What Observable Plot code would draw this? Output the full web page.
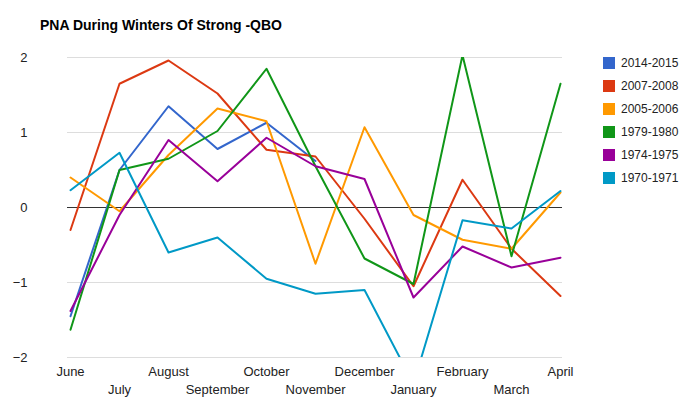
<!DOCTYPE html>
<html><head><meta charset="utf-8">
<script src="https://cdn.jsdelivr.net/npm/d3@7"></script>
<script src="https://cdn.jsdelivr.net/npm/@observablehq/plot@0.6"></script>
<style>
body{margin:0;background:#fff;font-family:Arial,"Liberation Sans",sans-serif}
#wrap{position:relative;width:699px;height:420px}
#title{position:absolute;left:40px;top:17px;font-size:14px;font-weight:bold;color:#000}
#legend{position:absolute;left:603px;top:56px;font-size:12px;color:#222}
.li{height:23px;display:flex;align-items:flex-start}
.sw{width:12px;height:12px;margin-right:6px;margin-top:1px}
</style></head><body>
<div id="wrap"><div id="chart"></div><div id="title">PNA During Winters Of Strong -QBO</div><div id="legend"></div></div>
<script>
const months = ["June","July","August","September","October","November","December","January","February","March","April"];
const seriesNames = ["2014-2015","2007-2008","2005-2006","1979-1980","1974-1975","1970-1971"];
const colors = ["#3366cc","#dc3912","#ff9900","#109618","#990099","#0099c6"];
const s2014 = [-1.45,0.5,1.35,0.78,1.13,0.62,null,null,null,null,null];
const s2007 = [-0.3,1.65,1.96,1.52,0.77,0.68,-0.15,-1.05,0.37,-0.55,-1.18];
const s2005 = [0.4,-0.05,0.7,1.32,1.15,-0.75,1.07,-0.1,-0.43,-0.55,0.2];
const s1979 = [-1.63,0.5,0.65,1.02,1.85,0.55,-0.68,-1.02,2.03,-0.65,1.65];
const s1974 = [-1.38,-0.1,0.9,0.35,0.93,0.55,0.38,-1.2,-0.52,-0.8,-0.67];
const s1970 = [0.23,0.73,-0.6,-0.4,-0.95,-1.15,-1.1,-2.35,-0.17,-0.28,0.22];
const yTicks = [-2,-1,0,1,2];
const all = [s2014,s2007,s2005,s1979,s1974,s1970];
const data = [];
all.forEach((s,i)=>s.forEach((v,j)=>{ if(v!==null) data.push({series:seriesNames[i],month:months[j],v}); }));
const chart = Plot.plot({
  width:699,height:420,marginLeft:67,marginRight:137,marginTop:57,marginBottom:63,
  style:{fontFamily:"Arial, 'Liberation Sans', sans-serif",fontSize:"13px",color:"#222"},
  x:{type:"point",domain:months,padding:0,axis:null},
  y:{domain:[-2,2],axis:null},
  color:{domain:seriesNames,range:colors},
  marks:[
    Plot.gridY(yTicks,{stroke:"#ddd",strokeOpacity:1}),
    Plot.ruleY([0],{stroke:"#333"}),
    Plot.text(yTicks,{frameAnchor:"left",y:d=>d,text:d=>d<0?"\u2212"+Math.abs(d):String(d),dx:-40,textAnchor:"end",fill:"#222",fontSize:13}),
    Plot.line(data,{x:"month",y:"v",z:"series",stroke:"series",strokeWidth:2,clip:true}),
    Plot.text(months,{x:d=>d,frameAnchor:"bottom",text:d=>d,fill:"#222",fontSize:13,filter:(d,i)=>i%2===0,dy:18}),
    Plot.text(months,{x:d=>d,frameAnchor:"bottom",text:d=>d,fill:"#222",fontSize:13,filter:(d,i)=>i%2===1,dy:36})
  ]
});
document.getElementById("chart").appendChild(chart);
const leg=document.getElementById("legend");
seriesNames.forEach((n,i)=>{leg.innerHTML+=`<div class="li"><div class="sw" style="background:${colors[i]}"></div>${n}</div>`;});
</script></body></html>
